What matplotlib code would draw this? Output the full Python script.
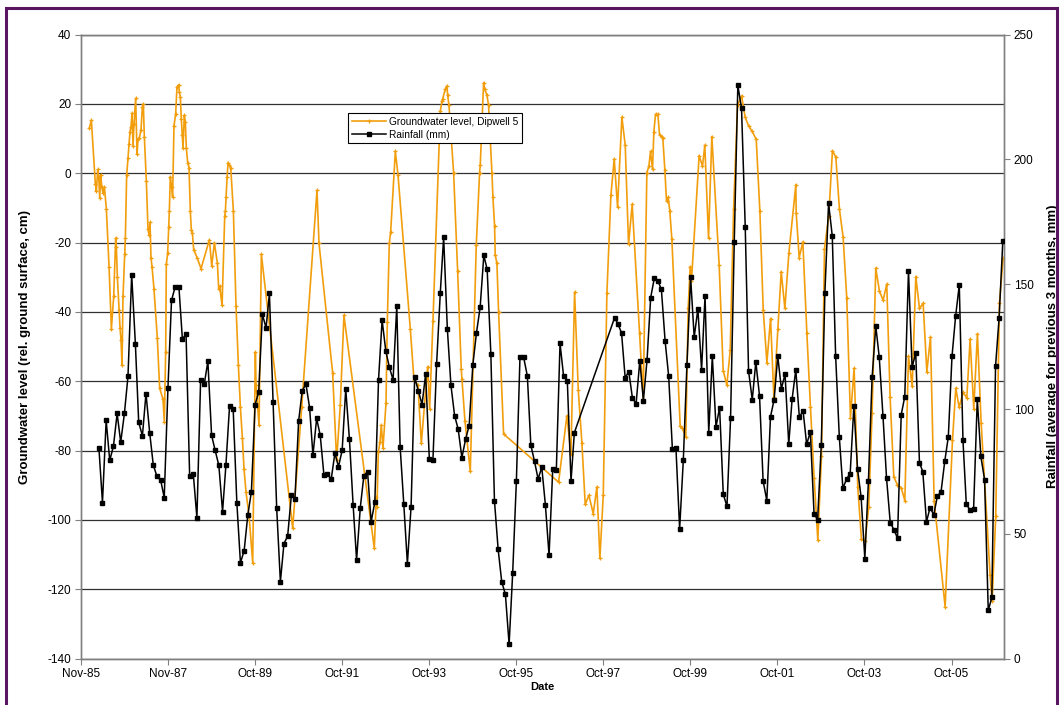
import numpy as np
import pandas as pd
import matplotlib
matplotlib.use('Agg')
import matplotlib.pyplot as plt
import matplotlib.dates as mdates
from matplotlib.lines import Line2D
from matplotlib.patches import Rectangle

plt.rcParams['font.family'] = ['Liberation Sans', 'DejaVu Sans']
plt.rcParams['axes.unicode_minus'] = False

# ---------------- data ----------------
gw_year = [
    1986.026, 1986.071, 1986.163, 1986.186, 1986.217, 1986.240, 1986.263, 1986.286, 1986.309, 1986.339,
    1986.370, 1986.416, 1986.477, 1986.531, 1986.584, 1986.630, 1986.645, 1986.668, 1986.707, 1986.730,
    1986.752, 1986.775, 1986.798, 1986.837, 1986.852, 1986.882, 1986.913, 1986.936, 1986.959, 1986.982,
    1987.005, 1987.028, 1987.051, 1987.089, 1987.120, 1987.143, 1987.173, 1987.212, 1987.242, 1987.265,
    1987.288, 1987.334, 1987.372, 1987.395, 1987.418, 1987.441, 1987.464, 1987.510, 1987.586, 1987.640,
    1987.717, 1987.747, 1987.778, 1987.793, 1987.824, 1987.847, 1987.862, 1987.885, 1987.915, 1987.938,
    1987.969, 1988.007, 1988.038, 1988.076, 1988.092, 1988.115, 1988.137, 1988.160, 1988.176, 1988.206,
    1988.229, 1988.252, 1988.283, 1988.313, 1988.344, 1988.367, 1988.390, 1988.421, 1988.497, 1988.589,
    1988.780, 1988.834, 1988.895, 1988.964, 1988.994, 1989.017, 1989.071, 1989.132, 1989.147, 1989.163,
    1989.186, 1989.209, 1989.239, 1989.270, 1989.331, 1989.392, 1989.446, 1989.492, 1989.538, 1989.576,
    1989.622, 1989.691, 1989.775, 1989.836, 1989.852, 1989.920, 1989.974,
    1990.693, 1990.900, 1991.252, 1991.298, 1991.611, 1991.703, 1991.787, 1991.871,
    1992.567, 1992.613, 1992.628, 1992.659, 1992.697, 1992.728, 1992.766, 1992.835, 1992.865, 1992.911,
    1992.942, 1993.049, 1993.110, 1993.393, 1993.477, 1993.569, 1993.646, 1993.791, 1993.837, 1993.914,
    1994.082, 1994.120, 1994.135, 1994.197, 1994.235, 1994.250, 1994.281,
    1994.388, 1994.480, 1994.564, 1994.579, 1994.648, 1994.771, 1994.908, 1994.985, 1995.000, 1995.077,
    1995.100, 1995.153, 1995.191, 1995.268, 1995.291, 1995.329, 1995.344, 1995.383, 1995.421, 1995.536,
    1996.797, 1996.989, 1997.080, 1997.165, 1997.249, 1997.333, 1997.409, 1997.494, 1997.593, 1997.677,
    1997.746, 1997.823, 1997.907, 1997.999, 1998.075, 1998.152, 1998.251, 1998.328, 1998.404,
    1998.488, 1998.657, 1998.741, 1998.825, 1998.871, 1998.909, 1998.955, 1998.986, 1999.024, 1999.078,
    1999.116, 1999.162, 1999.192, 1999.238, 1999.277, 1999.315, 1999.353, 1999.399, 1999.590, 1999.636,
    1999.720, 1999.774, 1999.820, 1999.850, 2000.026, 2000.103, 2000.156, 2000.241, 2000.317, 2000.485,
    2000.577, 2000.661, 2000.738, 2000.815, 2000.906, 2000.998, 2001.082, 2001.159, 2001.235, 2001.335,
    2001.419, 2001.496, 2001.580, 2001.664, 2001.740, 2001.832, 2001.909, 2001.993, 2002.085, 2002.245,
    2002.253, 2002.322, 2002.406, 2002.498,
    2002.581, 2002.665, 2002.750, 2002.834, 2002.903, 2003.002, 2003.086, 2003.163, 2003.247, 2003.331,
    2003.415, 2003.500, 2003.584, 2003.668, 2003.752, 2003.836, 2003.920, 2003.997, 2004.081, 2004.165,
    2004.249, 2004.333, 2004.410, 2004.494, 2004.578,
    2004.663, 2004.747, 2004.831, 2004.915, 2004.999, 2005.083, 2005.167, 2005.252, 2005.336, 2005.420,
    2005.672, 2005.841, 2005.917, 2005.994, 2006.086, 2006.170, 2006.246, 2006.330, 2006.414, 2006.499,
    2006.705, 2006.751, 2006.835, 2006.920, 2007.004,
]
gw_level = [
    13.1, 15.3, -3.1, -5.1, 1.1, -1.2, -7.1, -0.4, -3.9, -5.7,
    -3.9, -10.4, -26.9, -44.9, -35.5, -18.7, -21.2, -29.8, -39.3, -44.6,
    -48.1, -55.4, -35.5, -23.4, -18.7, -0.4, 4.3, 8.4, 12.0, 13.4,
    17.3, 7.8, 14.3, 21.6, 5.5, 9.8, 10.2, 12.6, 19.0, 20.0,
    10.6, -2.2, -16.1, -17.7, -14.2, -24.3, -26.9, -33.4, -47.5, -62.0,
    -65.2, -71.7, -51.6, -26.3, -23.1, -15.5, -11.0, -1.0, -3.9, -6.9,
    13.7, 17.0, 24.9, 25.5, 23.5, 22.0, 15.7, 11.0, 7.3, 16.7,
    14.9, 7.3, 3.1, 1.6, -11.0, -16.3, -17.2, -22.0, -24.3, -27.5,
    -19.2, -26.7, -20.1, -26.0, -33.5, -32.6, -38.1, -12.4, -11.0, -6.9,
    -1.2, 3.1, 2.5, 1.6, -11.0, -38.4, -55.4, -67.5, -76.4, -85.4,
    -92.0, -98.8, -112.3, -51.6, -61.1, -72.6, -23.4,
    -102.3, -67.5, -4.9, -20.2, -57.5, -82.8, -66.9, -41.0,
    -108.2, -93.5, -96.4, -80.5, -77.5, -72.6, -79.3, -66.4, -42.8, -20.1,
    -16.9, 6.3, -0.4, -44.9, -59.6, -61.1, -77.9, -55.8, -67.9, -42.5,
    17.9, 20.8, 21.4, 24.3, 25.2, 22.6, 19.6,
    0.2, -28.1, -56.6, -59.3, -71.4, -86.0, -20.8, 0.2, 2.3, 26.1,
    24.3, 22.6, 19.6, 0.2, -6.9, -15.1, -23.6, -26.0, -39.9, -75.2,
    -89.1, -69.9, -81.1, -34.3, -62.5, -77.9, -95.5, -92.9, -98.2, -90.5,
    -111.1, -92.9, -34.6, -6.3, 4.1, -9.8, 16.2, 8.1, -20.5,
    -9.0, -46.0, -65.2, 0.2, 2.0, 6.3, 1.1, 12.0, 17.0, 17.0,
    11.1, 10.6, 10.1, 1.0, -8.1, -6.9, -11.0, -19.0, -72.8, -73.4,
    -76.1, -39.0, -26.9, -31.0, 5.1, 2.0, 8.1, -18.7, 10.6, -26.5,
    -56.9, -61.1, -51.0, -10.4, 19.6, 22.3, 16.1, 13.7, 12.2, 9.8,
    -11.0, -39.5, -54.6, -41.9, -64.6, -44.9, -28.4, -39.0, -23.0, -3.3,
    -11.4, -24.3, -19.8, -46.0,
    -67.5, -87.8, -105.8, -81.7, -21.8, -12.2, 6.5, 4.7, -10.4, -18.4,
    -36.0, -70.5, -56.3, -90.5, -105.6, -106.1, -96.2, -69.1, -27.4, -34.0,
    -36.6, -32.0, -64.6, -87.6, -89.9,
    -90.7, -94.4, -52.8, -61.4, -29.8, -39.0, -37.5, -57.3, -47.2, -94.6,
    -125.0, -77.0, -62.0, -67.5, -63.2, -64.8, -47.9, -67.9, -46.3, -71.9,
    -115.8, -123.5, -99.0, -37.5, -24.5,
]

# Rainfall: monthly (3-month average), two runs separated by a data gap
rain_a_start = '1986-03-31'
rain_a = [
    84.5, 62.5, 95.4, 79.4, 85.1, 98.2, 86.7, 98.2, 113.1, 153.8,
    126.1, 94.6, 89.3, 106.2, 90.5, 77.6, 73.0, 71.5, 64.5, 108.3,
    143.5, 149.0, 149.0, 128.1, 129.9, 73.3, 73.8, 56.4, 111.6, 110.1,
    119.1, 89.5, 83.4, 77.4, 58.9, 77.4, 101.4, 100.1, 62.3, 38.4,
    43.2, 57.6, 66.9, 101.8, 106.8, 137.9, 132.5, 146.3, 102.9, 60.2,
    30.8, 46.1, 49.1, 65.4, 64.0, 95.2, 107.2, 110.1, 100.5, 81.5,
    96.2, 89.5, 73.6, 74.1, 71.8, 82.3, 76.9, 83.4, 108.0, 87.9,
    61.5, 39.6, 60.5, 73.3, 74.9, 54.8, 62.7, 111.7, 135.6, 123.2,
    116.7, 111.7, 141.2, 84.9, 61.8, 38.1, 60.9, 112.7, 107.2, 101.8,
    114.0, 80.0, 79.4, 118.0, 146.6, 168.8, 132.2, 109.6, 97.3, 91.9,
    80.5, 87.9, 93.3, 117.8, 130.4, 140.7, 161.6, 155.9, 121.9, 63.3,
    43.8, 30.8, 25.7, 5.7, 34.4, 71.2, 120.7, 120.7, 113.2, 85.6,
    79.0, 72.0, 76.6, 61.7, 41.4, 76.1, 75.6, 126.3, 113.1, 111.4, 71.0, 90.5,
]
rain_b_start = '1998-01-31'
rain_b = [
    136.5, 134.2, 130.4, 112.6, 114.9,
    104.4, 102.1, 119.4, 103.4, 119.8, 144.6, 152.5, 151.2, 147.9, 127.3,
    113.2, 84.1, 84.4, 52.0, 79.7, 117.5, 152.8, 128.8, 140.1, 115.8,
    145.3, 90.5, 121.1, 92.8, 100.6, 65.8, 61.0, 96.2, 166.9, 229.7,
    220.5, 173.1, 115.2, 103.7, 118.9, 105.2, 71.2, 63.3, 96.9, 103.7,
    121.2, 108.1, 114.0, 85.9, 103.9, 115.7, 96.7, 99.3, 85.9, 90.8,
    58.1, 55.6, 85.7, 146.6, 182.4, 169.3, 121.4, 88.8, 68.2, 72.0,
    74.1, 101.1, 75.9, 64.6, 40.1, 71.0, 112.7, 133.2, 120.7, 97.3,
    72.3, 54.5, 51.7, 48.3, 97.7,
    105.0, 155.4, 116.8, 122.4, 78.5, 74.9, 54.8, 60.5, 57.6, 65.0,
    66.8, 79.0, 88.8, 121.1, 137.1, 149.7, 87.4, 61.8, 59.6, 60.0,
    103.9, 81.0, 71.7, 19.3, 24.5, 117.1, 136.5, 167.2,
]

x_start = '1985-11-01'
x_end = '2007-01-10'
tick_step_days = 730
n_ticks = 11

# --------------- helpers ---------------
def dec_to_dt(y):
    yr = int(np.floor(y))
    s = pd.Timestamp(year=yr, month=1, day=1)
    e = pd.Timestamp(year=yr + 1, month=1, day=1)
    return s + (e - s) * (y - yr)

gw_dates = [dec_to_dt(y) for y in gw_year]
rain_dates = list(pd.date_range(rain_a_start, periods=len(rain_a), freq='ME')) + \
             list(pd.date_range(rain_b_start, periods=len(rain_b), freq='ME'))
rain_vals = rain_a + rain_b

ORANGE = '#F29E0C'
W, H = 1062, 705
fig = plt.figure(figsize=(W / 100, H / 100), dpi=100)
fig.patch.set_facecolor('white')

# outer purple frame
fig.add_artist(Rectangle((6 / W, -0.02), (1057 - 6) / W, 1.02 - 8 / H,
                         transform=fig.transFigure, fill=False,
                         edgecolor='#5a1560', linewidth=2.2))

L, R, T, B = 81, 1004, 34.6, 658.6
ax = fig.add_axes([L / W, 1 - B / H, (R - L) / W, (B - T) / H])
ax2 = ax.twinx()

ax.plot(gw_dates, gw_level, color=ORANGE, lw=1.2, marker='+', ms=3.4, mew=0.9,
        zorder=3, label='Groundwater level, Dipwell 5')
ax2.plot(rain_dates, rain_vals, color='black', lw=1.1, marker='s', ms=2.7,
         zorder=3, label='Rainfall (mm)')

ax.set_ylim(-140, 40)
ax.set_yticks(np.arange(-140, 41, 20))
ax2.set_ylim(0, 250)
ax2.set_yticks(np.arange(0, 251, 50))

x0 = pd.Timestamp(x_start)
ax.set_xlim(x0, pd.Timestamp(x_end))
ticks = [x0 + pd.Timedelta(days=tick_step_days * k) for k in range(n_ticks)]
ax.set_xticks(ticks)
ax.xaxis.set_major_formatter(mdates.DateFormatter('%b-%y'))

ax.grid(axis='y', color='#303030', lw=0.9, zorder=0)
ax.set_axisbelow(True)

for a in (ax, ax2):
    for s in a.spines.values():
        s.set_color('#808080')
        s.set_linewidth(1.0)
    a.tick_params(direction='out', length=4, width=0.8, color='#808080',
                  labelsize=8.5, labelcolor='black', pad=3)

ax.set_ylabel('Groundwater level (rel. ground surface, cm)', fontsize=9.5,
              fontweight='bold', labelpad=12)
ax2.set_ylabel('Rainfall (average for previous 3 months, mm)', fontsize=9.5,
               fontweight='bold', labelpad=10)
ax.set_xlabel('Date', fontsize=8, fontweight='bold', labelpad=1)

handles = [Line2D([], [], color=ORANGE, lw=1.2, marker='+', ms=3.4, mew=0.9),
           Line2D([], [], color='black', lw=1.1, marker='s', ms=2.7)]
leg = fig.legend(handles, ['Groundwater level, Dipwell 5', 'Rainfall (mm)'],
                 loc='upper left', bbox_to_anchor=(348 / W, 1 - 113 / H),
                 bbox_transform=fig.transFigure, fontsize=7.3, frameon=True,
                 fancybox=False, edgecolor='black', framealpha=1,
                 borderpad=0.35, labelspacing=0.3, handlelength=3.4,
                 handletextpad=0.3, borderaxespad=0)
leg.get_frame().set_linewidth(0.8)

fig.savefig('out.png', dpi=100)
